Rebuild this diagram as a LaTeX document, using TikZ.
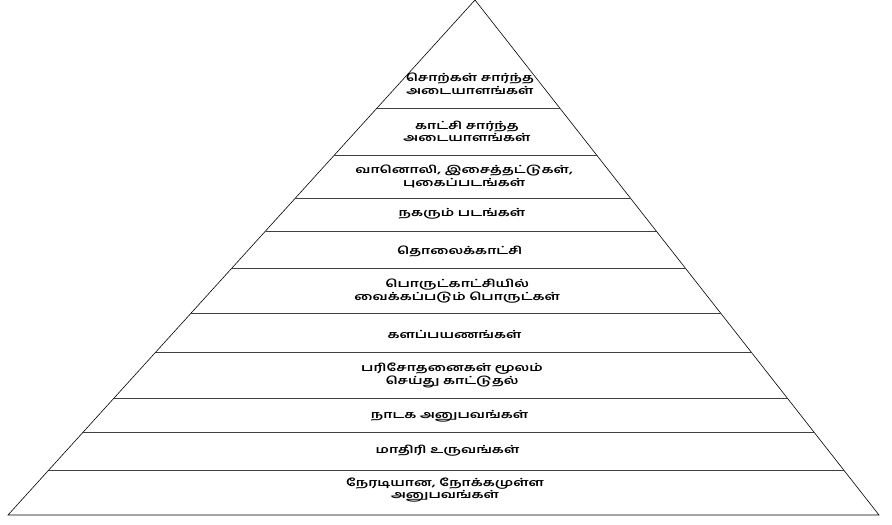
\documentclass[tikz,border=0pt]{standalone}
\usepackage{fontspec}
\newfontfamily\tamilfont[Script=Tamil, FakeStretch=1.4]{Hind Madurai}
\usepackage{tikz}
\usetikzlibrary{calc}

\begin{document}
\begin{tikzpicture}[x=1pt, y=-1pt,
    band/.style={font=\tamilfont\bfseries\fontsize{10.5}{12.5}\selectfont, align=center, inner sep=0pt}]
    \useasboundingbox (0,0) rectangle (892,525);
    \coordinate (apex) at (475,0);
    \coordinate (bl) at (8,515);
    \coordinate (br) at (879,515);
    \coordinate (bm) at ($(bl)!0.5!(br)$);
    \draw[line width=0.6pt] (bl) -- (apex) -- (br) -- cycle;
    \foreach \y in {108,155,198,231,268,313,352,398,432,470}
        \draw[line width=0.8pt, black!75] ($(apex)!{\y/515}!(bl)$) -- ($(apex)!{\y/515}!(br)$);
    \node[band] (words)   at ($(apex)!{84/515}!(bm)$)    {சொற்கள் சார்ந்த\\அடையாளங்கள்};
    \node[band] (visual)  at ($(apex)!{131.5/515}!(bm)$) {காட்சி சார்ந்த\\அடையாளங்கள்};
    \node[band] (radio)   at ($(apex)!{176.5/515}!(bm)$) {வானொலி, இசைத்தட்டுகள்,\\புகைப்படங்கள்};
    \node[band] (motion)  at ($(apex)!{214/515}!(bm)$)   {நகரும் படங்கள்};
    \node[band] (tv)      at ($(apex)!{251/515}!(bm)$)   {தொலைக்காட்சி};
    \node[band] (exhibit) at ($(apex)!{291/515}!(bm)$)   {பொருட்காட்சியில்\\வைக்கப்படும் பொருட்கள்};
    \node[band] (trips)   at ($(apex)!{334/515}!(bm)$)   {களப்பயணங்கள்};
    \node[band] (demo)    at ($(apex)!{375.5/515}!(bm)$) {பரிசோதனைகள் மூலம்\\செய்து காட்டுதல்};
    \node[band] (drama)   at ($(apex)!{416/515}!(bm)$)   {நாடக அனுபவங்கள்};
    \node[band] (models)  at ($(apex)!{450.5/515}!(bm)$) {மாதிரி உருவங்கள்};
    \node[band] (direct)  at ($(apex)!{490/515}!(bm)$)   {நேரடியான, நோக்கமுள்ள\\அனுபவங்கள்};
\end{tikzpicture}
\end{document}
